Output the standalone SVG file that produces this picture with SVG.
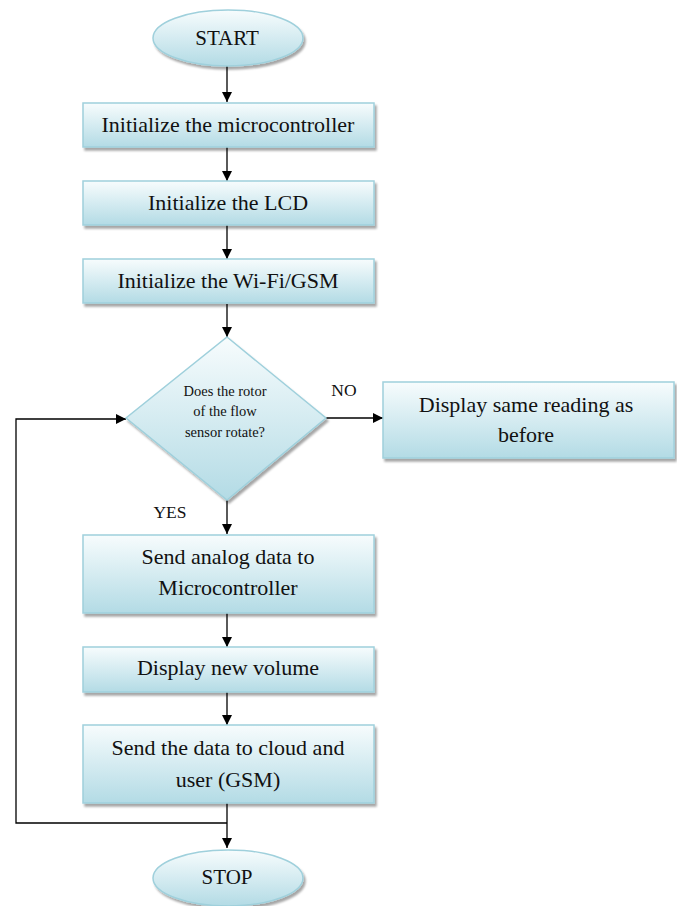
<svg xmlns="http://www.w3.org/2000/svg" width="677" height="906" viewBox="0 0 677 906">
<defs>
<linearGradient id="g" x1="0" y1="0" x2="0" y2="1">
<stop offset="0" stop-color="#f7fcfd"/>
<stop offset="1" stop-color="#b3dbe5"/>
</linearGradient>
<marker id="arr" viewBox="0 0 10 10" refX="10" refY="5" markerWidth="10" markerHeight="10" markerUnits="userSpaceOnUse" orient="auto">
<path d="M0,0 L10,5 L0,10 z" fill="#000"/>
</marker>
<filter id="sh" x="-10%" y="-10%" width="130%" height="140%">
<feDropShadow dx="2" dy="3" stdDeviation="1.2" flood-color="#000" flood-opacity="0.35"/>
</filter>
</defs>
<style>
.n{fill:url(#g);stroke:#9fd0dc;stroke-width:1.5;filter:url(#sh)}
text{font-family:'Liberation Serif','Times New Roman',serif;fill:#111;text-anchor:middle}
.t{font-size:22px}
.s{font-size:14.5px}
.l{font-size:17.5px}
.e{font-size:21px}
.c{fill:none;stroke:#000;stroke-width:1.3}
</style>
<rect width="677" height="906" fill="#fff"/>
<g id="connectors">
<line class="c" x1="227" y1="66" x2="227" y2="102" marker-end="url(#arr)"/>
<line class="c" x1="227" y1="147" x2="227" y2="181" marker-end="url(#arr)"/>
<line class="c" x1="227" y1="225" x2="227" y2="259" marker-end="url(#arr)"/>
<line class="c" x1="227" y1="304" x2="227" y2="337" marker-end="url(#arr)"/>
<line class="c" x1="326" y1="418" x2="383" y2="418" marker-end="url(#arr)"/>
<line class="c" x1="227" y1="500" x2="227" y2="534" marker-end="url(#arr)"/>
<line class="c" x1="227" y1="613" x2="227" y2="647" marker-end="url(#arr)"/>
<line class="c" x1="227" y1="692" x2="227" y2="725" marker-end="url(#arr)"/>
<line class="c" x1="227" y1="803" x2="227" y2="848" marker-end="url(#arr)"/>
<polyline class="c" points="227,823 16,823 16,419 126,419" marker-end="url(#arr)"/>
<text class="l" x="344" y="396">NO</text>
<text class="l" x="170" y="518">YES</text>
</g>
<g id="start">
<ellipse class="n" cx="228" cy="38" rx="75" ry="28"/>
<text class="e" x="227" y="45">START</text>
</g>
<g id="init-mcu">
<rect class="n" x="83" y="103" width="291" height="44"/>
<text class="t" x="228" y="132">Initialize the microcontroller</text>
</g>
<g id="init-lcd">
<rect class="n" x="83" y="181" width="291" height="44"/>
<text class="t" x="228" y="210">Initialize the LCD</text>
</g>
<g id="init-wifi">
<rect class="n" x="83" y="259" width="291" height="44"/>
<text class="t" x="228" y="288">Initialize the Wi-Fi/GSM</text>
</g>
<g id="decision">
<polygon class="n" points="227,337 326,418 227,500 126,418"/>
<text class="s" x="225" y="396">Does the rotor</text>
<text class="s" x="225" y="416">of the flow</text>
<text class="s" x="225" y="437">sensor rotate?</text>
</g>
<g id="display-same">
<rect class="n" x="383" y="382" width="291" height="76"/>
<text class="t" x="526" y="412">Display same reading as</text>
<text class="t" x="526" y="442">before</text>
</g>
<g id="send-analog">
<rect class="n" x="83" y="535" width="291" height="78"/>
<text class="t" x="228" y="564">Send analog data to</text>
<text class="t" x="228" y="595">Microcontroller</text>
</g>
<g id="display-new">
<rect class="n" x="83" y="647" width="291" height="45"/>
<text class="t" x="228" y="675">Display new volume</text>
</g>
<g id="send-cloud">
<rect class="n" x="83" y="725" width="291" height="78"/>
<text class="t" x="228" y="755">Send the data to cloud and</text>
<text class="t" x="228" y="787">user (GSM)</text>
</g>
<g id="stop">
<ellipse class="n" cx="228" cy="878" rx="75" ry="28"/>
<text class="e" x="227" y="884">STOP</text>
</g>
</svg>
